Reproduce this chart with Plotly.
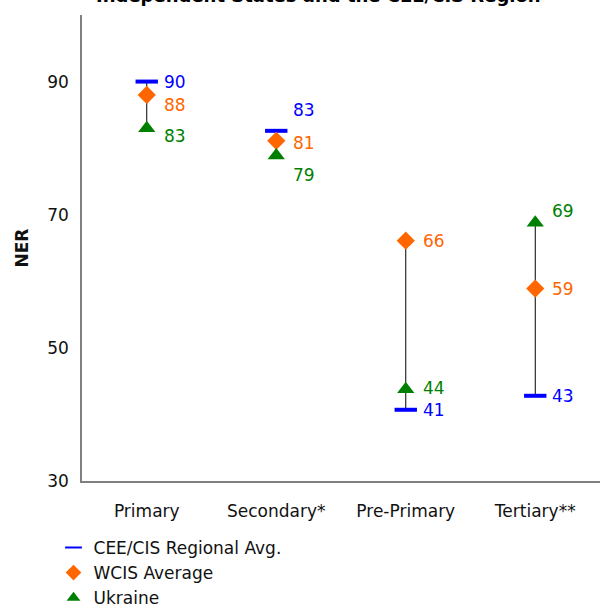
import plotly.graph_objects as go

categories = ["Primary", "Secondary*", "Pre-Primary", "Tertiary**"]
cee_cis = [90, 82.6, 40.7, 42.8]
wcis = [88, 81.1, 66.1, 58.9]
ukraine = [83, 78.9, 43.8, 68.8]

cee_labels = ["90", "83", "41", "43"]
wcis_labels = ["88", "81", "66", "59"]
ukr_labels = ["83", "79", "44", "69"]

BLUE = "#0000FF"
ORANGE = "#FF6600"
GREEN = "#008000"
FONT = "DejaVu Sans"

fig = go.Figure()

# vertical range line per category
lx, ly = [], []
for i, c in enumerate(categories):
    vals = [cee_cis[i], wcis[i], ukraine[i]]
    lx += [c, c, None]
    ly += [min(vals), max(vals), None]
fig.add_trace(go.Scatter(x=lx, y=ly, mode="lines", line=dict(color="black", width=1),
                         showlegend=False, hoverinfo="skip"))

fig.add_trace(go.Scatter(x=categories, y=cee_cis, mode="markers", name="CEE/CIS Regional Avg.",
                         marker=dict(symbol="line-ew", size=16, line=dict(color=BLUE, width=4), color=BLUE)))
fig.add_trace(go.Scatter(x=categories, y=wcis, mode="markers", name="WCIS Average",
                         marker=dict(symbol="diamond", size=14, color=ORANGE)))
fig.add_trace(go.Scatter(x=categories, y=ukraine, mode="markers", name="Ukraine",
                         marker=dict(symbol="triangle-up", size=15, color=GREEN)))

# value labels (vertical pixel nudges keep them clear of each other)
label_sets = [
    (cee_cis, cee_labels, BLUE, [0, 21, 0, 0]),
    (wcis, wcis_labels, ORANGE, [-10, -2, 0, 0]),
    (ukraine, ukr_labels, GREEN, [-8, -20, 1, 12]),
]
for vals, labs, col, shifts in label_sets:
    for c, v, t, s in zip(categories, vals, labs, shifts):
        fig.add_annotation(x=c, y=v, text=t, showarrow=False, xanchor="left",
                           xshift=15, yshift=s, font=dict(family=FONT, size=17, color=col))

fig.add_annotation(xref="paper", yref="paper", x=0.456, y=1.041, yanchor="middle",
                   text="<b>Independent States and the CEE/CIS Region</b>", showarrow=False,
                   font=dict(family=FONT, size=18, color="black"))

fig.update_layout(
    width=600, height=608,
    margin=dict(l=82, r=0, t=15, b=127, autoexpand=False),
    plot_bgcolor="white", paper_bgcolor="white",
    font=dict(family=FONT, size=17, color="#111"),
    showlegend=True,
    legend=dict(x=-0.055, y=-0.105, xanchor="left", yanchor="top", font=dict(size=17),
                tracegroupgap=0, itemwidth=30, itemsizing="constant", bgcolor="rgba(0,0,0,0)"),
    xaxis=dict(range=[-0.5, 3.5], showline=True, linecolor="#808080", linewidth=1.5,
               showgrid=False, zeroline=False, ticks="", tickfont=dict(size=17),
               ticklabelstandoff=14),
    yaxis=dict(range=[30, 100], tickvals=[30, 50, 70, 90], showline=True, linecolor="#808080",
               linewidth=1.5, showgrid=False, zeroline=False, ticks="", tickfont=dict(size=17),
               ticklabelstandoff=8,
               title=dict(text="<b>NER</b>", font=dict(size=17), standoff=14)),
)

fig.write_html("out.html")
